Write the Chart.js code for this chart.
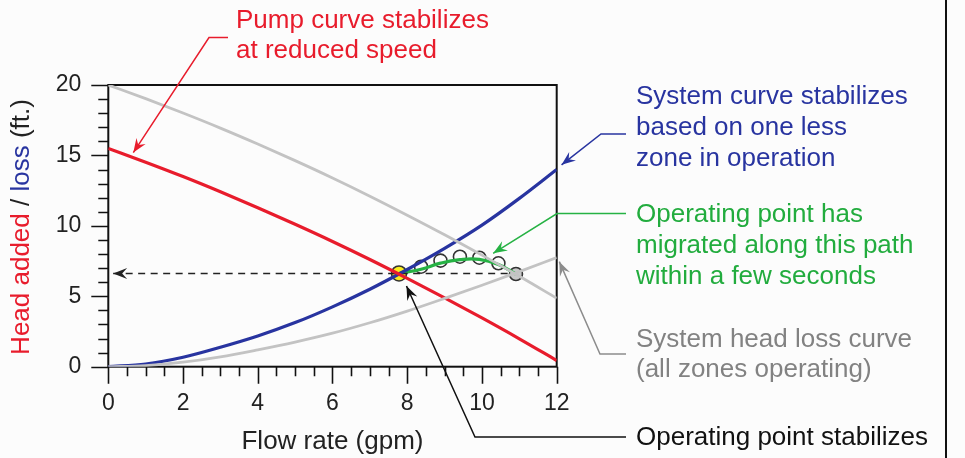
<!DOCTYPE html>
<html>
<head>
    <title>Pump and system curves</title>
    <script src="https://cdn.jsdelivr.net/npm/chart.js"></script>
    <style>
        html, body { margin: 0; padding: 0; background: #fcfcfc; }
        canvas { display: block; }
    </style>
</head>
<body>
    <canvas id="pumpChart" width="965" height="458"></canvas>

<script>
    // flow rate (gpm)
    const flowRate = [0, 1, 2, 3, 4, 5, 6, 7, 8, 9, 10, 11, 12];
    // head (ft.)
    const pumpOriginal  = [20.0, 19.03, 18.01, 16.94, 15.81, 14.63, 13.4, 12.11, 10.76, 9.37, 7.92, 6.42, 4.86];
    const pumpReduced   = [15.5, 14.52, 13.5, 12.42, 11.29, 10.11, 8.89, 7.61, 6.27, 4.89, 3.46, 1.98, 0.44];
    const systemOneLess = [0, 0.19, 0.67, 1.38, 2.18, 3.13, 4.25, 5.5, 6.9, 8.4, 10.05, 11.95, 14.0];
    const systemAll     = [0, 0.08, 0.32, 0.7, 1.2, 1.75, 2.38, 3.12, 3.95, 4.85, 5.78, 6.75, 7.75];

    // operating point migration
    const opPoint = { x: 7.78, y: 6.62 };
    const pathX = [7.78, 8.37, 8.89, 9.41, 9.93, 10.44, 10.91];
    const pathY = [6.62, 6.92, 7.35, 7.6, 7.62, 7.25, 6.58];
    const stepX = [8.37, 8.89, 9.41, 9.93, 10.44, 10.91];
    const stepY = [7.10, 7.53, 7.81, 7.74, 7.34, 6.58];

    const xTicks = [0, 2, 4, 6, 8, 10, 12];
    const yTicks = [0, 5, 10, 15, 20];

    const FONT = '"Liberation Sans", Arial, Helvetica, sans-serif';
    const RED = 'rgb(232, 28, 44)';
    const BLUE = 'rgb(40, 52, 160)';
    const GREEN = 'rgb(38, 178, 68)';
    const GRAY = 'rgb(195, 195, 195)';

    function pts(xs, ys) {
        return xs.map((x, i) => ({ x: x, y: ys[i] }));
    }

    // stealth style arrowhead at (tx, ty) coming from (fx, fy)
    function arrowHead(ctx, fx, fy, tx, ty, color) {
        const a = Math.atan2(ty - fy, tx - fx);
        const L = 14, W = 5.5, N = 9;
        const ux = Math.cos(a), uy = Math.sin(a);
        ctx.save();
        ctx.fillStyle = color;
        ctx.beginPath();
        ctx.moveTo(tx, ty);
        ctx.lineTo(tx - ux * L - uy * W, ty - uy * L + ux * W);
        ctx.lineTo(tx - ux * N, ty - uy * N);
        ctx.lineTo(tx - ux * L + uy * W, ty - uy * L - ux * W);
        ctx.closePath();
        ctx.fill();
        ctx.restore();
    }

    function leader(ctx, points, color) {
        ctx.save();
        ctx.strokeStyle = color;
        ctx.lineWidth = 1.5;
        ctx.beginPath();
        points.forEach((p, i) => i ? ctx.lineTo(p[0], p[1]) : ctx.moveTo(p[0], p[1]));
        const n = points.length;
        const tip = points[n - 1], prev = points[n - 2];
        // stop the line inside the arrowhead
        const a = Math.atan2(tip[1] - prev[1], tip[0] - prev[0]);
        ctx.lineTo(tip[0] - Math.cos(a) * 8, tip[1] - Math.sin(a) * 8);
        ctx.stroke();
        ctx.restore();
        arrowHead(ctx, prev[0], prev[1], tip[0], tip[1], color);
    }

    function textLines(ctx, lines, x, baselines, color) {
        ctx.save();
        ctx.font = '26px ' + FONT;
        ctx.fillStyle = color;
        ctx.textAlign = 'left';
        ctx.textBaseline = 'alphabetic';
        lines.forEach((t, i) => ctx.fillText(t, x, baselines[i]));
        ctx.restore();
    }

    const decorPlugin = {
        id: 'decor',
        beforeDraw(chart) {
            const ctx = chart.ctx;
            ctx.save();
            ctx.fillStyle = '#fcfcfc';
            ctx.fillRect(0, 0, chart.width, chart.height);
            ctx.restore();
        },
        beforeDatasetsDraw(chart) {
            const ctx = chart.ctx;
            const xs = chart.scales.x, ys = chart.scales.y;
            const ca = chart.chartArea;
            ctx.save();
            ctx.strokeStyle = '#111';
            ctx.lineWidth = 2;
            ctx.strokeRect(ca.left, ca.top, ca.right - ca.left, ca.bottom - ca.top);
            ctx.lineWidth = 1.6;
            ctx.beginPath();
            for (let v = 0; v <= 12.001; v += 0.5) {
                const px = Math.round(xs.getPixelForValue(v)) + 0.5;
                const len = (v % 2 === 0) ? 17 : 9.5;
                ctx.moveTo(px, ca.bottom);
                ctx.lineTo(px, ca.bottom + len);
            }
            for (let v = 0; v <= 20; v += 1) {
                const py = Math.round(ys.getPixelForValue(v)) + 0.5;
                const len = (v % 5 === 0) ? 17 : 10;
                ctx.moveTo(ca.left, py);
                ctx.lineTo(ca.left - len, py);
            }
            ctx.stroke();
            ctx.restore();
        },
        afterDraw(chart) {
            const ctx = chart.ctx;
            const xs = chart.scales.x, ys = chart.scales.y;
            const P = (x, y) => [xs.getPixelForValue(x), ys.getPixelForValue(y)];

            // arrowhead of the dashed guide at the head axis
            const g0 = P(0.13, opPoint.y), g1 = P(1, opPoint.y);
            arrowHead(ctx, g1[0], g1[1], g0[0], g0[1], '#222');

            // axis titles
            ctx.save();
            ctx.font = '26px ' + FONT;
            ctx.fillStyle = '#222';
            ctx.textAlign = 'center';
            ctx.textBaseline = 'alphabetic';
            ctx.fillText('Flow rate (gpm)', (xs.left + xs.right) / 2, 449);
            ctx.restore();

            ctx.save();
            ctx.font = '26px ' + FONT;
            ctx.translate(29, 227);
            ctx.rotate(-Math.PI / 2);
            const parts = [['Head added', RED], [' / ', '#222'], ['loss', BLUE], [' (ft.)', '#222']];
            const total = parts.reduce((s, p) => s + ctx.measureText(p[0]).width, 0);
            let cx = -total / 2;
            ctx.textBaseline = 'alphabetic';
            parts.forEach(p => {
                ctx.fillStyle = p[1];
                ctx.fillText(p[0], cx, 0);
                cx += ctx.measureText(p[0]).width;
            });
            ctx.restore();

            // annotations
            textLines(ctx, ['Pump curve stabilizes', 'at reduced speed'], 236, [28, 58], RED);
            leader(ctx, [[228, 37.5], [209, 37.5], P(0.67, 15.2)], RED);

            textLines(ctx, ['System curve stabilizes', 'based on one less', 'zone in operation'], 636, [104, 135, 166], BLUE);
            leader(ctx, [[626, 134], [601, 134], P(12.13, 14.33)], BLUE);

            textLines(ctx, ['Operating point has', 'migrated along this path', 'within a few seconds'], 636, [222, 253, 284], 'rgb(34, 172, 62)');
            leader(ctx, [[626, 213.5], [557, 213.5], P(10.3, 8.05)], GREEN);

            textLines(ctx, ['System head loss curve', '(all zones operating)'], 636, [347, 377], 'rgb(130, 130, 130)');
            leader(ctx, [[626, 354], [600, 354], P(12.07, 7.46)], 'rgb(140, 140, 140)');

            textLines(ctx, ['Operating point stabilizes'], 636, [445], '#111');
            leader(ctx, [[626, 437], [475, 437], P(7.98, 5.73)], '#111');

            // page edge
            ctx.save();
            ctx.strokeStyle = '#111';
            ctx.lineWidth = 2;
            ctx.beginPath();
            ctx.moveTo(946, 0);
            ctx.lineTo(946, 458);
            ctx.stroke();
            ctx.restore();
        }
    };

    const curve = (label, xs, ys, color, width) => ({
        label: label,
        data: pts(xs, ys),
        showLine: true,
        borderColor: color,
        borderWidth: width,
        pointRadius: 0,
        cubicInterpolationMode: 'monotone',
        fill: false
    });

    const ctx = document.getElementById('pumpChart').getContext('2d');
    const chart = new Chart(ctx, {
        type: 'scatter',
        data: {
            datasets: [
                curve('Pump curve (full speed)', flowRate, pumpOriginal, GRAY, 2.8),
                curve('System head loss (all zones)', flowRate, systemAll, GRAY, 2.8),
                curve('Pump curve (reduced speed)', flowRate, pumpReduced, RED, 3.2),
                curve('System curve (one less zone)', flowRate, systemOneLess, BLUE, 3.2),
                {
                    label: 'guide',
                    data: pts([0.13, stepX[stepX.length - 1]], [opPoint.y, opPoint.y]),
                    showLine: true,
                    borderColor: '#222',
                    borderWidth: 1.4,
                    borderDash: [7, 5.5],
                    pointRadius: 0
                },
                {
                    label: 'path',
                    data: pts(pathX, pathY),
                    showLine: true,
                    borderColor: GREEN,
                    borderWidth: 3.2,
                    tension: 0.45,
                    pointRadius: 0
                },
                {
                    label: 'steps',
                    data: pts(stepX, stepY),
                    showLine: false,
                    pointRadius: 6.5,
                    pointBorderWidth: 1.6,
                    pointBorderColor: '#333',
                    pointBackgroundColor: stepX.map((x, i) => i === stepX.length - 1 ? 'rgb(200, 200, 200)' : 'rgba(255,255,255,0)')
                },
                {
                    label: 'operating point',
                    data: [opPoint],
                    showLine: false,
                    pointRadius: 7.5,
                    pointBorderWidth: 1.6,
                    pointBorderColor: '#333',
                    pointBackgroundColor: 'rgb(250, 238, 30)'
                }
            ]
        },
        options: {
            responsive: false,
            animation: false,
            devicePixelRatio: 1,
            layout: { padding: { left: 0, top: 85, right: 408.3, bottom: 0 } },
            plugins: {
                legend: { display: false },
                tooltip: { enabled: false }
            },
            scales: {
                x: {
                    type: 'linear',
                    min: 0,
                    max: 12,
                    grid: { display: true, drawOnChartArea: false, drawTicks: false },
                    border: { display: false },
                    afterBuildTicks: s => { s.ticks = xTicks.map(v => ({ value: v })); },
                    ticks: { padding: 23, color: '#222', font: { family: FONT, size: 23 } },
                    afterFit: s => { s.height = 458 - 366.7; }
                },
                y: {
                    type: 'linear',
                    min: 0,
                    max: 20,
                    grid: { display: true, drawOnChartArea: false, drawTicks: false },
                    border: { display: false },
                    afterBuildTicks: s => { s.ticks = yTicks.map(v => ({ value: v })); },
                    ticks: { padding: 27, color: '#222', font: { family: FONT, size: 23 } },
                    afterFit: s => { s.width = 108.3; }
                }
            }
        },
        plugins: [decorPlugin]
    });
</script>
</body>
</html>
